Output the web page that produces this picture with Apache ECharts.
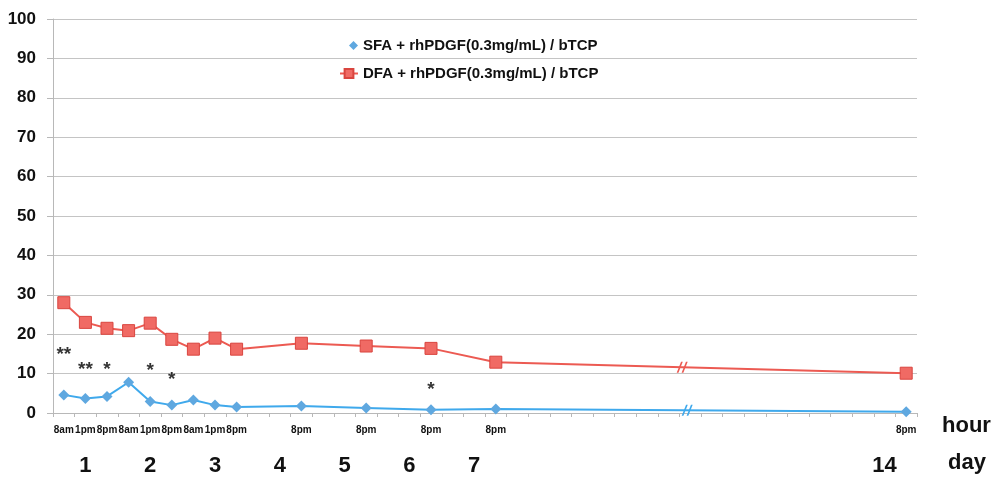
<!DOCTYPE html>
<html>
<head>
<meta charset="utf-8">
<script src="https://cdn.jsdelivr.net/npm/echarts@6/dist/echarts.min.js"></script>
<style>html,body{margin:0;padding:0;background:#fff}#c{width:994px;height:479px}</style>
</head>
<body>
<div id="c"></div>
<script>
// ---- data ----
const slotCount = 40;
const pointSlots = [0, 1, 2, 3, 4, 5, 6, 7, 8, 11, 14, 17, 20, 39];
const hourLabels = ['8am', '1pm', '8pm', '8am', '1pm', '8pm', '8am', '1pm', '8pm', '8pm', '8pm', '8pm', '8pm', '8pm'];
const sfaValues = [4.6, 3.7, 4.2, 7.8, 2.9, 2.0, 3.3, 2.0, 1.5, 1.8, 1.3, 0.8, 1.0, 0.3];
const dfaValues = [28.0, 23.0, 21.5, 20.9, 22.8, 18.7, 16.2, 19.0, 16.2, 17.7, 17.0, 16.4, 12.9, 10.1];
const daySlots = [1, 4, 7, 10, 13, 16, 19, 38];
const dayLabels = ['1', '2', '3', '4', '5', '6', '7', '14'];
const starSlots = [0, 1, 2, 4, 5, 17];
const starLabels = ['**', '**', '*', '*', '*', '*'];
const starValues = [15.5, 11.7, 11.7, 11.5, 9.1, 6.6];
const breakSlot = 29;
const sfaBreakValue = 0.7;
const dfaBreakValue = 11.6;
const yTicks = { min: 0, max: 100, interval: 10 };
const sfaName = 'SFA + rhPDGF(0.3mg/mL) / bTCP';
const dfaName = 'DFA + rhPDGF(0.3mg/mL) / bTCP';

// ---- chart ----
const SANS = '"Liberation Sans", Arial, sans-serif';
const categories = Array.from({ length: slotCount }, (_, i) => 's' + i);
const blue = '#3fa9ec', blueMark = '#5fa8e0';
const red = '#ec5a52', redMark = '#f06a64';
const breakPath = 'path://M0,10 L1.6,10 L5.6,0 L4,0 Z M4.5,10 L6.1,10 L10.1,0 L8.5,0 Z';

const chart = echarts.init(document.getElementById('c'), null, { renderer: 'canvas' });
chart.setOption({
  animation: false,
  backgroundColor: '#fff',
  grid: { left: 53, right: 77, top: 19, bottom: 66 },
  legend: [
    {
      data: [{ name: sfaName, icon: 'diamond' }],
      left: 344, top: 33, itemWidth: 9, itemHeight: 9,
      textStyle: { fontFamily: SANS, fontWeight: 'bold', fontSize: 15, color: '#111' }
    },
    {
      data: [dfaName],
      left: 334, top: 61, itemWidth: 18, itemHeight: 11,
      textStyle: { fontFamily: SANS, fontWeight: 'bold', fontSize: 15, color: '#111' }
    }
  ],
  xAxis: [
    {
      type: 'category', data: categories, boundaryGap: true,
      axisLine: { lineStyle: { color: '#b8b8b8', width: 1 } },
      axisTick: { show: true, length: 4, interval: 0, lineStyle: { color: '#b8b8b8' } },
      axisLabel: {
        interval: 0, margin: 12, fontFamily: SANS, fontWeight: 'bold', fontSize: 10, color: '#111',
        formatter: (v, i) => { const k = pointSlots.indexOf(i); return k >= 0 ? hourLabels[k] : ''; }
      },
      splitLine: { show: false }
    },
    {
      type: 'category', data: categories, boundaryGap: true, position: 'bottom',
      axisLine: { show: false }, axisTick: { show: false },
      axisLabel: {
        interval: 0, margin: 42, fontFamily: SANS, fontWeight: 'bold', fontSize: 22, color: '#111',
        formatter: (v, i) => { const k = daySlots.indexOf(i); return k >= 0 ? dayLabels[k] : ''; }
      },
      splitLine: { show: false }
    }
  ],
  yAxis: {
    type: 'value', min: yTicks.min, max: yTicks.max, interval: yTicks.interval,
    axisLine: { show: true, lineStyle: { color: '#b8b8b8' } },
    axisTick: { show: true, length: 6, lineStyle: { color: '#b8b8b8' } },
    axisLabel: { margin: 17, fontFamily: SANS, fontWeight: 'bold', fontSize: 17, color: '#111' },
    splitLine: { lineStyle: { color: '#c4c4c4', width: 1 } }
  },
  graphic: [
    { type: 'text', left: 942, top: 415, style: { text: 'hour', font: 'bold 22px ' + SANS, fill: '#111' } },
    { type: 'text', left: 948, top: 452, style: { text: 'day', font: 'bold 22px ' + SANS, fill: '#111' } }
  ],
  series: [
    {
      name: sfaName, type: 'line',
      data: pointSlots.map((s, i) => [s, sfaValues[i]]),
      symbol: 'diamond', symbolSize: 11,
      lineStyle: { color: blue, width: 2 },
      itemStyle: { color: blueMark },
      markPoint: {
        symbol: breakPath, symbolSize: [11, 11], symbolOffset: [-3, 0],
        label: { show: false },
        itemStyle: { color: blue },
        data: [{ coord: [breakSlot, sfaBreakValue] }]
      },
      z: 3
    },
    {
      name: dfaName, type: 'line',
      data: pointSlots.map((s, i) => [s, dfaValues[i]]),
      symbol: 'rect', symbolSize: 12,
      lineStyle: { color: red, width: 2 },
      itemStyle: { color: redMark, borderColor: '#d9453f', borderWidth: 1 },
      markPoint: {
        symbol: breakPath, symbolSize: [11, 11], symbolOffset: [-8, 0],
        label: { show: false },
        itemStyle: { color: red },
        data: [{ coord: [breakSlot, dfaBreakValue] }]
      },
      z: 3
    },
    {
      name: 'stars', type: 'scatter',
      data: starSlots.map((s, i) => ({ value: [s, starValues[i]], name: starLabels[i] })),
      symbolSize: 1, itemStyle: { color: 'rgba(0,0,0,0)' },
      label: {
        show: true, position: 'inside', formatter: p => p.name, offset: [0, 3],
        fontFamily: SANS, fontWeight: 'bold', fontSize: 19, color: '#000'
      },
      silent: true, z: 4
    }
  ]
});
</script>
</body>
</html>
